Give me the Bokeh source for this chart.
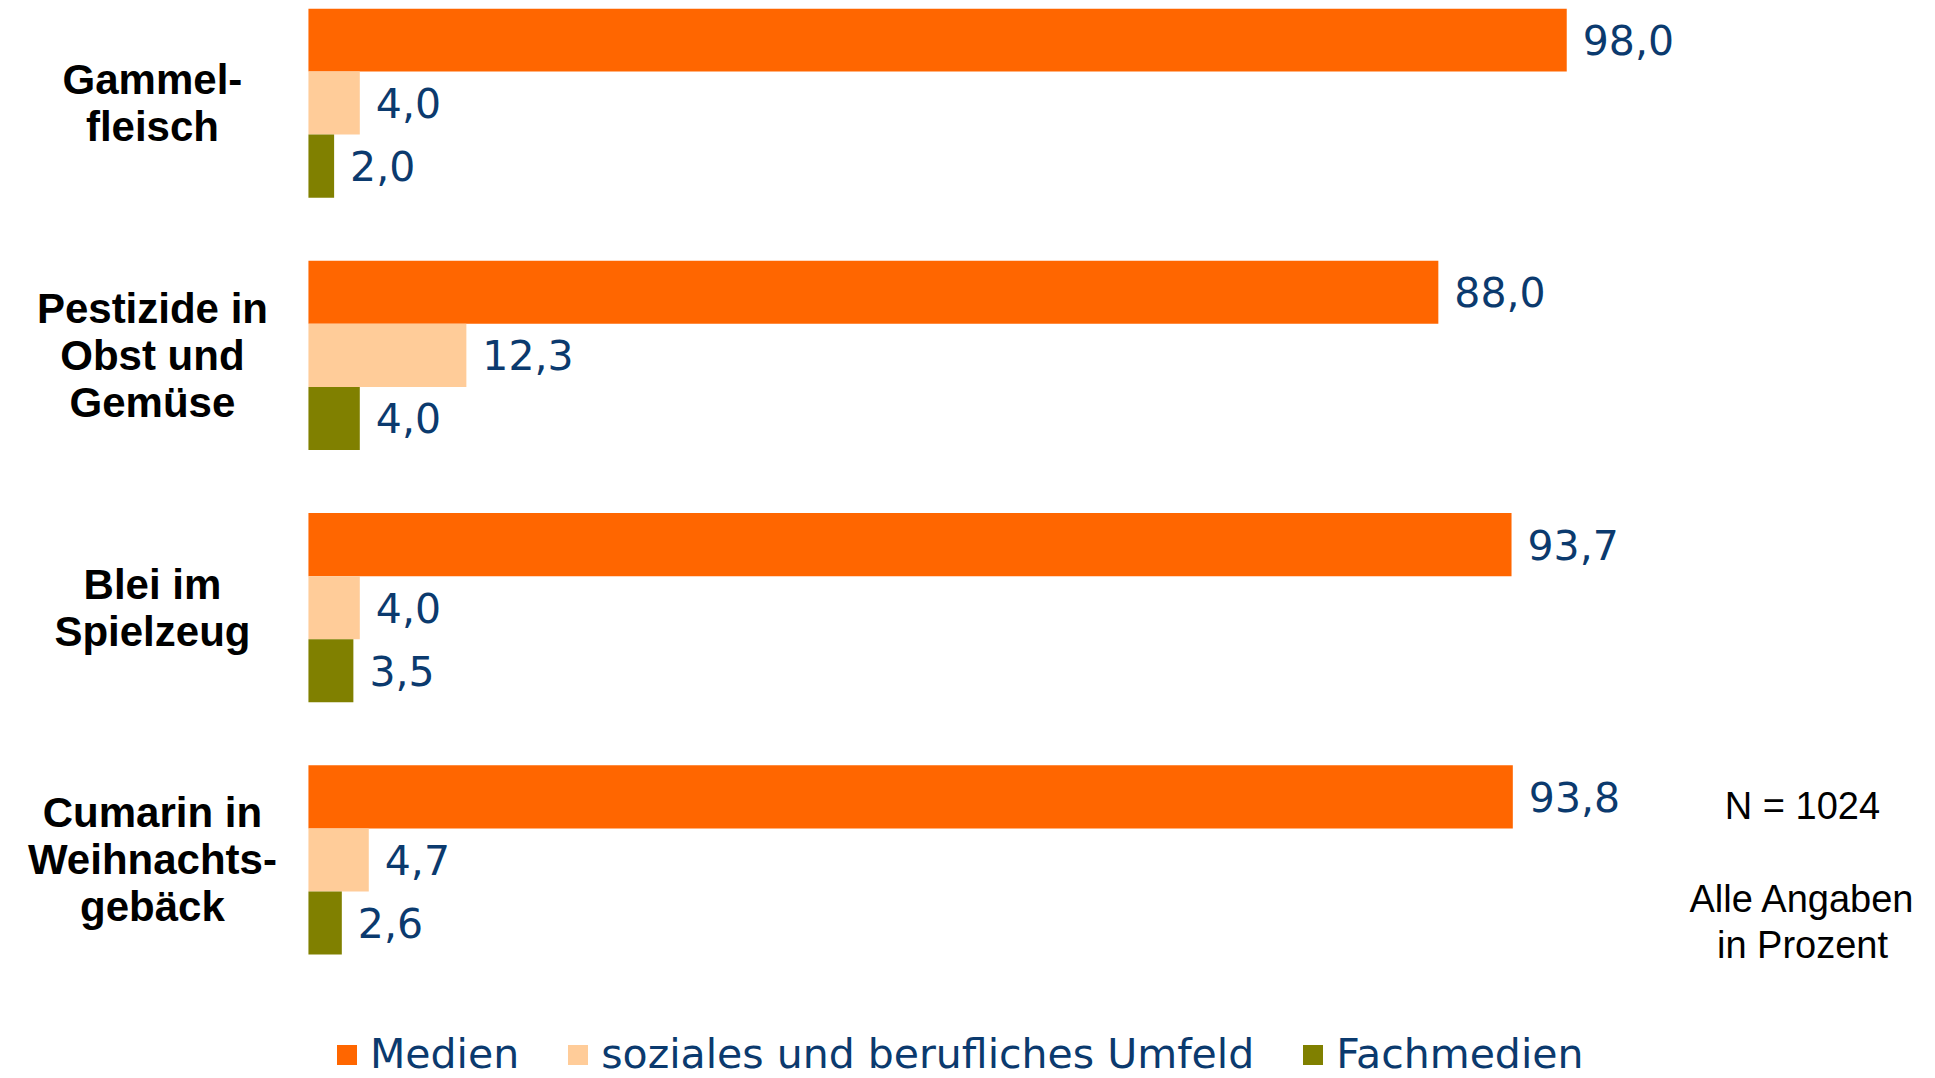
from bokeh.plotting import figure
from bokeh.models import Range1d, ColumnDataSource, Label, Legend, LegendItem
from bokeh.core.properties import value
from bokeh.embed import file_html
from bokeh.resources import INLINE

categories = ["Gammel-\nfleisch", "Pestizide in\nObst und\nGemüse", "Blei im\nSpielzeug",
              "Cumarin in\nWeihnachts-\ngebäck"]
series_names = ["Medien", "soziales und berufliches Umfeld", "Fachmedien"]
medien = [98.0, 88.0, 93.7, 93.8]
umfeld = [4.0, 12.3, 4.0, 4.7]
fachmedien = [2.0, 4.0, 3.5, 2.6]
colors = ["#FF6600", "#FFCC99", "#808000"]
n_text = "N = 1024"
note_lines = ["Alle Angaben", "in Prozent"]

W, H = 1935, 1078
p = figure(width=W, height=H, output_backend="svg", toolbar_location=None,
           x_range=Range1d(-23.36, 126.72), y_range=Range1d(3.866, -0.3746),
           min_border=0, min_border_left=8, min_border_right=0,
           min_border_top=8, min_border_bottom=0)
p.xaxis.visible = False
p.yaxis.visible = False
p.grid.visible = False
p.outline_line_color = None
p.background_fill_color = "white"
p.border_fill_color = "white"

offsets = [-0.25, 0.0, 0.25]
label_color = "#0B3A6E"
renderers = []
for name, vals, col, off in zip(series_names, [medien, umfeld, fachmedien], colors, offsets):
    ys = [i + off for i in range(len(categories))]
    src = ColumnDataSource(dict(y=ys, right=vals,
                                txt=[f"{v:.1f}".replace(".", ",") for v in vals]))
    r = p.hbar(y="y", right="right", left=0, height=0.25, source=src,
               fill_color=col, line_color=None)
    renderers.append((name, r))
    p.text(x="right", y="y", text="txt", source=src, x_offset=16,
           text_baseline="middle", text_align="left",
           text_font=value("DejaVu Sans"), text_font_size="41px",
           text_color=label_color)

# category labels
csrc = ColumnDataSource(dict(x=[-12.15] * len(categories), y=list(range(len(categories))),
                             t=categories))
p.text(x="x", y="y", text="t", source=csrc, text_align="center", text_baseline="middle",
       text_font=value("Liberation Sans"), text_font_style="bold", text_font_size="42px",
       text_line_height=1.0, text_color="black")

legend = Legend(items=[LegendItem(label=n, renderers=[r]) for n, r in renderers],
                orientation="horizontal", location=(326, 0),
                glyph_width=25, glyph_height=25, label_standoff=11, spacing=46,
                padding=0, margin=0, border_line_color=None, background_fill_alpha=0,
                label_text_font="DejaVu Sans", label_text_font_size="41px",
                label_text_color=label_color)
p.add_layout(legend, "center")

p.add_layout(Label(x=1794, y=273, x_units="screen", y_units="screen", text=n_text,
                   text_align="center", text_baseline="middle",
                   text_font="Liberation Sans", text_font_size="38px", text_color="black"))
for k, line in enumerate(note_lines):
    p.add_layout(Label(x=1794, y=180 - 46 * k, x_units="screen", y_units="screen", text=line,
                       text_align="center", text_baseline="middle",
                       text_font="Liberation Sans", text_font_size="38px", text_color="black"))

open("out.html", "w").write(file_html(p, INLINE))
